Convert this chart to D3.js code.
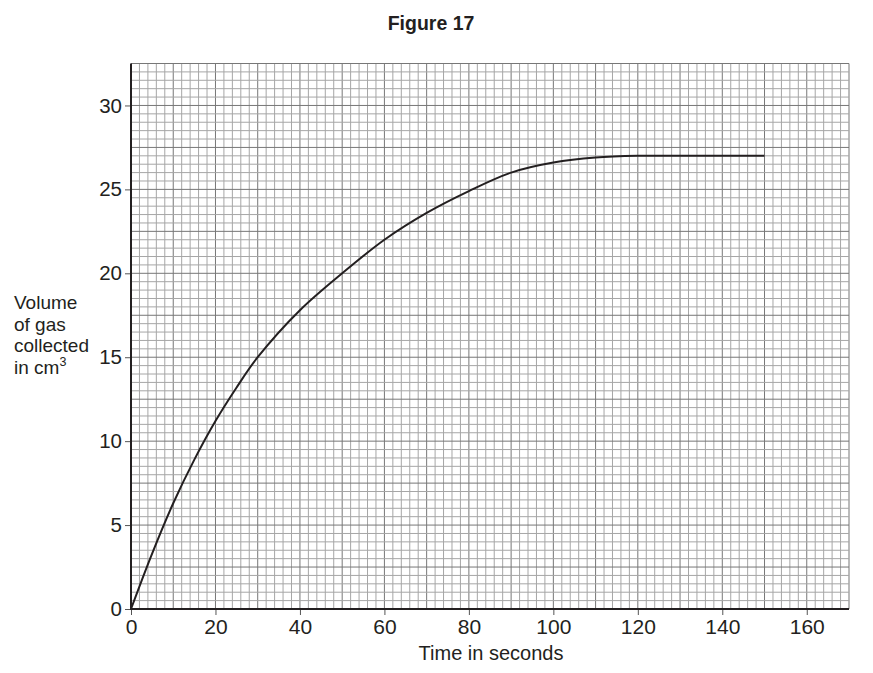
<!DOCTYPE html>
<html>
<head>
<meta charset="utf-8">
<script src="https://cdn.jsdelivr.net/npm/d3@7"></script>
<style>
  body { margin: 0; background: #fff; }
  text { font-family: "Liberation Sans", Arial, sans-serif; fill: #231f20; }
</style>
</head>
<body>
<svg id="chart" width="873" height="673"></svg>
<script>
// data
const times   = [0, 5, 10, 15, 20, 25, 30, 40, 50, 60, 70, 80, 90, 100, 110, 120, 130, 140, 150];
const volumes = [0, 3.3, 6.3, 8.9, 11.2, 13.2, 15.0, 17.8, 20.0, 22.0, 23.6, 24.9, 26.0, 26.6, 26.9, 27.0, 27.0, 27.0, 27.0];
const xTicks = [0, 20, 40, 60, 80, 100, 120, 140, 160];
const yTicks = [0, 5, 10, 15, 20, 25, 30];
const yLabelLines = ["Volume", "of gas", "collected", "in cm"];

let svg = d3.select("#chart");

let x = d3.scaleLinear().domain([0, 170]).range([131, 849]);
let y = d3.scaleLinear().domain([0, 32.5]).range([609, 63.5]);

// grid
let grid = svg.append("g");
grid.selectAll("line.vx").data(d3.range(2, 171, 2)).enter().append("line")
  .attr("x1", d => x(d)).attr("x2", d => x(d))
  .attr("y1", y(0)).attr("y2", y(32.5))
  .attr("stroke", d => d % 10 === 0 ? "#777" : "#a6a6a6").attr("stroke-width", 1);
grid.selectAll("line.hy").data(d3.range(1, 66).map(i => i * 0.5)).enter().append("line")
  .attr("y1", d => y(d)).attr("y2", d => y(d))
  .attr("x1", x(0)).attr("x2", x(170))
  .attr("stroke", d => (d * 2) % 5 === 0 ? "#777" : "#a6a6a6").attr("stroke-width", 1);

// axes
let xAxis = d3.axisBottom(x).tickValues(xTicks).tickSize(6).tickPadding(4).tickSizeOuter(0);
let gx = svg.append("g").attr("transform", `translate(0,${y(0)})`).call(xAxis);
gx.select(".domain").remove();
gx.selectAll("line").attr("stroke", "#555");
gx.selectAll("text").attr("font-size", 21).attr("font-family", "Liberation Sans, Arial, sans-serif").attr("fill", "#231f20");

let yAxis = d3.axisLeft(y).tickValues(yTicks).tickSize(6).tickPadding(3).tickSizeOuter(0);
let gy = svg.append("g").attr("transform", `translate(${x(0)},0)`).call(yAxis);
gy.select(".domain").remove();
gy.selectAll("line").attr("stroke", "#555");
gy.selectAll("text").attr("font-size", 20.5).attr("font-family", "Liberation Sans, Arial, sans-serif").attr("fill", "#231f20");

svg.append("line").attr("x1", x(0)).attr("x2", x(170)).attr("y1", y(0)).attr("y2", y(0))
  .attr("stroke", "#231f20").attr("stroke-width", 2);
svg.append("line").attr("x1", x(0)).attr("x2", x(0)).attr("y1", y(0) + 1).attr("y2", y(32.5))
  .attr("stroke", "#231f20").attr("stroke-width", 2);

// curve
let line = d3.line().x(d => x(d[0])).y(d => y(d[1])).curve(d3.curveCatmullRom);
svg.append("path").datum(d3.zip(times, volumes))
  .attr("d", line).attr("fill", "none").attr("stroke", "#231f20").attr("stroke-width", 2);

// titles
svg.append("text").attr("x", 431).attr("y", 30).attr("text-anchor", "middle")
  .attr("font-size", 19.5).attr("font-weight", "bold").text("Figure 17");
svg.append("text").attr("x", 491).attr("y", 660).attr("text-anchor", "middle")
  .attr("font-size", 20).text("Time in seconds");

let yl = svg.append("text").attr("x", 14).attr("font-size", 19);
yLabelLines.forEach((t, i) => {
  yl.append("tspan").attr("x", 14).attr("y", 309 + i * 21.5).text(t);
  if (i === yLabelLines.length - 1) {
    yl.append("tspan").attr("font-size", 12.5).attr("dy", -8).text("3");
  }
});
</script>
</body>
</html>
